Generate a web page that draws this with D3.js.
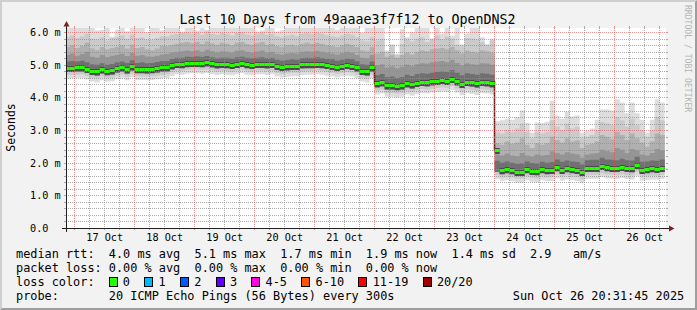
<!DOCTYPE html>
<html><head><meta charset="utf-8">
<script src="https://cdn.jsdelivr.net/npm/d3@7"></script>
<style>
body{margin:0;background:#f2f2f2}
svg text{font-family:"DejaVu Sans Mono",monospace;white-space:pre}
</style>
</head><body>
<svg id="c" width="697" height="310"></svg>
<script>
// ---------- data ----------
const titleText = "Last 10 Days from 49aaae3f7f12 to OpenDNS2";
const startTime = new Date(2025, 9, 16, 20, 31, 45);
const endTime = new Date(2025, 9, 26, 20, 31, 45);
const binStart = new Date(2025, 9, 16, 20, 0, 0);
const binHours = 2;

// median rtt per 2-hour bin (ms)
const median = [
4.91,4.91,4.92,4.92,4.88,4.82,4.80,4.86,4.81,4.83, 4.89,4.92,4.86,4.95,4.87,4.87,4.86,4.87,4.89,4.92,
4.93,4.99,5.04,5.03,5.06,5.07,5.07,5.06,5.08,5.05, 5.02,5.04,5.03,5.01,5.04,5.07,5.03,5.01,5.04,5.04,
5.02,5.04,4.97,4.94,4.96,4.98,4.98,5.02,5.03,5.03, 5.04,5.03,5.00,4.98,4.94,4.98,5.00,4.98,4.92,4.82,
4.80,4.92,
4.44,4.47,4.37,4.37,4.35,4.37,4.44,4.40,4.45,4.49, 4.47,4.50,4.52,4.54,4.52,4.58,4.50,4.42,4.48,4.46,
4.43,4.48,4.47,4.44,
2.40,1.77,1.80,1.77,1.73,1.73,1.80,1.76,1.74,1.80, 1.77,1.78,1.86,1.79,1.83,1.80,1.78,1.71,1.84,1.85,
1.85,1.90,1.86,1.85,1.84,1.87,1.84,1.83,1.94,1.79, 1.80,1.83,1.82,1.85];

// smoke: ranked ping levels per bin (ms)
const pingMax = [
6.30,6.30,6.25,6.30,6.30,6.20,6.05,6.08,6.30,5.86, 6.08,6.30,6.03,6.30,6.25,6.30,6.00,6.30,6.30,6.05,
6.20,6.30,6.30,6.02,6.30,6.30,6.05,6.30,6.08,6.30, 6.30,6.30,6.25,6.30,6.30,6.30,6.30,6.30,6.02,6.05,
6.30,6.30,6.02,6.06,6.30,6.30,6.30,6.25,6.30,6.30, 6.30,6.30,6.30,6.30,6.08,6.30,6.30,6.25,6.30,5.98,
6.20,6.30,
6.30,6.20,5.44,5.63,5.34,6.10,5.85,6.00,6.30,6.20, 6.30,5.81,6.30,5.95,6.30,5.90,6.30,5.63,5.95,6.30,
6.30,5.85,5.63,5.80,
3.27,3.30,3.35,3.32,3.40,3.60,3.22,2.92,3.23,3.22, 3.26,3.90,3.45,3.35,3.57,3.42,3.45,2.92,2.98,3.05,
3.32,3.63,3.63,3.60,3.95,3.85,3.52,3.85,3.52,3.32, 2.92,3.32,3.95,3.85];
const pingUp1 = [
5.85,5.90,5.82,5.88,5.95,5.80,5.78,5.85,5.75,5.82, 5.85,5.90,5.80,5.92,5.82,5.85,5.78,5.76,5.82,5.88,
5.88,5.92,5.95,5.98,6.00,5.95,5.98,5.92,6.02,5.95, 5.92,5.98,5.95,5.90,5.98,6.00,5.94,5.90,5.95,6.00,
5.92,5.95,5.88,5.85,5.90,5.92,5.88,5.95,5.98,5.94, 5.98,5.95,5.90,5.88,5.85,5.90,5.95,5.92,5.85,5.75,
5.72,5.85,
5.75,5.80,5.40,5.60,5.30,5.65,5.78,5.72,5.80,5.85, 5.70,5.78,5.90,5.78,5.86,5.80,5.62,5.58,5.82,5.80,
5.78,5.70,5.62,5.75,
2.95,2.90,3.00,2.95,3.05,3.20,2.95,2.75,2.95,2.90, 2.95,3.30,3.10,3.00,3.20,3.05,3.10,2.75,2.80,2.85,
3.00,3.25,3.20,3.15,3.40,3.30,3.10,3.35,3.15,3.00, 2.80,3.00,3.40,3.30];
const pingUp2 = [
5.55,5.60,5.52,5.58,5.68,5.50,5.45,5.55,5.48,5.52, 5.55,5.60,5.50,5.62,5.52,5.55,5.48,5.45,5.50,5.58,
5.58,5.62,5.65,5.68,5.70,5.66,5.70,5.64,5.72,5.66, 5.62,5.68,5.65,5.60,5.68,5.70,5.64,5.62,5.66,5.70,
5.62,5.65,5.58,5.55,5.60,5.62,5.58,5.65,5.68,5.64, 5.68,5.65,5.60,5.58,5.55,5.60,5.65,5.62,5.55,5.45,
5.42,5.55,
5.35,5.40,5.25,5.30,5.22,5.30,5.38,5.32,5.40,5.45, 5.42,5.48,5.50,5.52,5.48,5.55,5.45,5.35,5.44,5.40,
5.38,5.45,5.42,5.38,
2.60,2.55,2.65,2.58,2.62,2.75,2.55,2.45,2.60,2.55, 2.60,2.80,2.70,2.62,2.75,2.65,2.68,2.45,2.55,2.58,
2.65,2.85,2.80,2.72,2.95,2.85,2.70,2.90,2.75,2.62, 2.50,2.65,2.90,2.85];
const pingUp3 = [
5.30,5.35,5.28,5.33,5.40,5.25,5.22,5.30,5.24,5.28, 5.30,5.34,5.27,5.36,5.28,5.30,5.26,5.25,5.28,5.32,
5.33,5.38,5.40,5.42,5.44,5.42,5.45,5.40,5.46,5.42, 5.38,5.42,5.40,5.37,5.43,5.45,5.40,5.38,5.41,5.44,
5.38,5.40,5.34,5.32,5.35,5.36,5.35,5.40,5.42,5.40, 5.43,5.40,5.37,5.35,5.32,5.36,5.40,5.37,5.30,5.22,
5.20,5.30,
4.98,5.02,4.92,4.95,4.90,4.94,5.00,4.96,5.02,5.05, 5.04,5.08,5.10,5.12,5.08,5.15,5.06,4.98,5.05,5.02,
5.00,5.05,5.04,5.00,
2.25,2.22,2.28,2.22,2.20,2.30,2.22,2.18,2.25,2.22, 2.24,2.35,2.30,2.25,2.32,2.28,2.26,2.15,2.25,2.28,
2.30,2.40,2.36,2.32,2.45,2.40,2.30,2.42,2.38,2.25, 2.22,2.30,2.42,2.38];
const pingUp4 = [
5.10,5.12,5.10,5.13,5.08,5.02,5.00,5.05,5.00,5.03, 5.08,5.10,5.06,5.14,5.06,5.08,5.05,5.06,5.09,5.12,
5.12,5.18,5.22,5.22,5.25,5.24,5.26,5.24,5.27,5.23, 5.20,5.22,5.22,5.19,5.23,5.25,5.22,5.20,5.22,5.23,
5.20,5.22,5.16,5.13,5.15,5.17,5.16,5.21,5.22,5.21, 5.23,5.21,5.18,5.17,5.13,5.16,5.19,5.17,5.11,5.02,
5.00,5.10,
4.68,4.72,4.62,4.64,4.60,4.63,4.70,4.66,4.72,4.74, 4.73,4.76,4.78,4.80,4.78,4.84,4.76,4.68,4.74,4.72,
4.70,4.74,4.73,4.70,
2.06,2.00,2.04,2.00,1.96,1.97,2.04,1.99,1.97,2.03, 2.00,2.02,2.10,2.03,2.07,2.04,2.02,1.95,2.08,2.09,
2.09,2.15,2.10,2.09,2.08,2.12,2.08,2.07,2.18,2.03, 2.04,2.07,2.06,2.10];
const pingLo2 = [
4.78,4.78,4.79,4.79,4.75,4.69,4.67,4.73,4.68,4.70, 4.76,4.79,4.73,4.82,4.74,4.74,4.73,4.74,4.76,4.79,
4.80,4.86,4.91,4.90,4.93,4.94,4.94,4.93,4.95,4.92, 4.89,4.91,4.90,4.88,4.91,4.94,4.90,4.88,4.91,4.91,
4.89,4.91,4.84,4.81,4.83,4.85,4.85,4.89,4.90,4.90, 4.91,4.90,4.87,4.85,4.81,4.85,4.87,4.85,4.79,4.69,
4.67,4.79,
4.31,4.34,4.24,4.24,4.22,4.24,4.31,4.27,4.32,4.36, 4.34,4.37,4.39,4.41,4.39,4.45,4.37,4.29,4.35,4.33,
4.30,4.35,4.34,4.31,
1.72,1.65,1.68,1.65,1.61,1.61,1.68,1.64,1.62,1.68, 1.65,1.66,1.74,1.67,1.71,1.68,1.66,1.59,1.72,1.73,
1.73,1.78,1.74,1.73,1.72,1.75,1.72,1.71,1.82,1.67, 1.68,1.71,1.70,1.73];
const pingLo1 = [
4.69,4.70,4.70,4.71,4.66,4.60,4.58,4.64,4.59,4.61, 4.67,4.70,4.64,4.73,4.65,4.65,4.64,4.65,4.67,4.70,
4.71,4.77,4.82,4.81,4.84,4.85,4.85,4.84,4.86,4.83, 4.80,4.82,4.81,4.79,4.82,4.85,4.81,4.79,4.82,4.82,
4.80,4.82,4.75,4.72,4.74,4.76,4.76,4.80,4.81,4.81, 4.82,4.81,4.78,4.76,4.72,4.76,4.78,4.76,4.70,4.60,
4.58,4.70,
4.21,4.24,4.14,4.14,4.12,4.14,4.21,4.17,4.22,4.26, 4.24,4.27,4.29,4.31,4.29,4.35,4.27,4.19,4.25,4.23,
4.20,4.25,4.24,4.21,
1.62,1.55,1.58,1.55,1.51,1.51,1.58,1.54,1.52,1.58, 1.55,1.56,1.64,1.57,1.61,1.58,1.56,1.49,1.62,1.63,
1.63,1.68,1.64,1.63,1.62,1.65,1.62,1.61,1.72,1.57, 1.58,1.61,1.60,1.63];
const pingMin = [
4.58,4.59,4.60,4.60,4.55,4.49,4.46,4.53,4.48,4.50, 4.56,4.59,4.53,4.62,4.54,4.54,4.53,4.54,4.56,4.59,
4.60,4.66,4.71,4.70,4.73,4.74,4.74,4.73,4.75,4.72, 4.69,4.71,4.70,4.68,4.71,4.74,4.70,4.68,4.71,4.71,
4.69,4.71,4.64,4.61,4.63,4.65,4.65,4.69,4.70,4.70, 4.71,4.70,4.67,4.65,4.61,4.65,4.67,4.65,4.59,4.49,
4.46,4.59,
4.09,4.12,4.02,4.02,4.00,4.02,4.09,4.05,4.10,4.14, 4.12,4.15,4.17,4.19,4.17,4.23,4.15,4.07,4.13,4.11,
4.08,4.13,4.12,4.09,
1.50,1.43,1.46,1.43,1.39,1.39,1.46,1.42,1.40,1.46, 1.43,1.44,1.52,1.45,1.49,1.46,1.44,1.37,1.50,1.51,
1.51,1.56,1.52,1.51,1.50,1.53,1.50,1.49,1.60,1.45, 1.46,1.49,1.48,1.51];

// the two level shifts: dark step lines in the smoke (ms)
const stepTimes = [new Date(2025, 9, 22, 0, 0, 0), new Date(2025, 9, 24, 0, 0, 0)];
const stepHigh = [4.95, 4.50];
const stepLow = [4.40, 2.35];

const yTickValues = [0, 1, 2, 3, 4, 5, 6];
const yTickLabels = ["0.0", "1.0 m", "2.0 m", "3.0 m", "4.0 m", "5.0 m", "6.0 m"];
const dayLabels = ["17 Oct","18 Oct","19 Oct","20 Oct","21 Oct","22 Oct","23 Oct","24 Oct","25 Oct","26 Oct"];
const yAxisTitle = "Seconds";
const watermark = "RRDTOOL / TOBI OETIKER";

const rttStats = ["4.0", "5.1", "1.7", "1.9", "1.4"];
const rttStatNames = ["avg", "max", "min", "now", "sd"];
const amsValue = "2.9";
const lossStats = ["0.00", "0.00", "0.00", "0.00"];
const lossStatNames = ["avg", "max", "min", "now"];
const lossLabels = ["0", "1", "2", "3", "4-5", "6-10", "11-19", "20/20"];
const lossColors = ["#26ff00", "#00b8ff", "#0059ff", "#5e00ff", "#ff00e1", "#ff5500", "#ff0000", "#a10000"];
const probeText = "20 ICMP Echo Pings (56 Bytes) every 300s";
const dateText = "Sun Oct 26 20:31:45 2025";

// ---------- layout ----------
const W = 697, H = 310;
const X0 = 66, X1 = 666, Y0 = 228, Y1 = 28;
const yMax = 6.13;
const svg = d3.select("#c");
const x = d3.scaleTime().domain([startTime, endTime]).range([X0, X1]);
const y = d3.scaleLinear().domain([0, yMax]).range([Y0, Y1]);

// background & 3D frame
svg.append("rect").attr("width", W).attr("height", H).attr("fill", "#f2f2f2");
svg.append("path").attr("d", `M0,0H${W}L${W-2},2H2V${H-2}L0,${H}Z`).attr("fill", "#cfcfcf");
svg.append("path").attr("d", `M${W},0V${H}H0L2,${H-2}H${W-2}V2Z`).attr("fill", "#9e9e9e");

// canvas
svg.append("rect").attr("x", X0).attr("y", Y1).attr("width", X1 - X0).attr("height", Y0 - Y1).attr("fill", "#fff");
svg.append("clipPath").attr("id", "plot").append("rect")
  .attr("x", X0).attr("y", Y1).attr("width", X1 - X0).attr("height", Y0 - Y1);

const gData = svg.append("g").attr("clip-path", "url(#plot)");
const bins = median.map((m, i) => ({ i, t0: d3.timeHour.offset(binStart, i * binHours), t1: d3.timeHour.offset(binStart, (i + 1) * binHours) }));

function band(topArr, botArr, color) {
  const pts = bins.map(b => ({ t: b.t0, top: topArr[b.i], bot: botArr[b.i] }));
  const last = bins[bins.length - 1];
  pts.push({ t: last.t1, top: topArr[last.i], bot: botArr[last.i] });
  gData.append("path").datum(pts)
    .attr("d", d3.area().curve(d3.curveStepAfter).x(d => x(d.t)).y0(d => y(d.bot)).y1(d => y(d.top)))
    .attr("fill", color);
}
band(pingMax, pingMin, "#dddddd");
band(pingUp1, pingLo1, "#cacaca");
band(pingUp2, pingLo2, "#b0b0b0");
band(pingUp3, pingLo2, "#959595");
band(pingUp4, pingLo2, "#707070");

// dark core just around the median
gData.selectAll("rect.core").data(bins).join("rect").attr("class", "core")
  .attr("x", d => x(d.t0)).attr("width", d => x(d.t1) - x(d.t0))
  .attr("y", d => Math.round(y(median[d.i])) - 2).attr("height", 6)
  .attr("fill", "#4a4a4a");

// level-shift step lines
gData.selectAll("line.step").data(stepTimes).join("line").attr("class", "step")
  .attr("x1", t => Math.floor(x(t)) + 0.5).attr("x2", t => Math.floor(x(t)) + 0.5)
  .attr("y1", (t, i) => y(stepHigh[i])).attr("y2", (t, i) => y(stepLow[i]))
  .attr("stroke", "#2a2a2a").attr("stroke-width", 1.5);

// grid
const gGrid = svg.append("g").attr("shape-rendering", "crispEdges");
const minorColor = "rgba(143,143,143,0.75)", majorColor = "rgba(222,80,80,0.6)";
const px = v => Math.floor(v) + 0.5;
const pyy = v => Math.round(v) + 0.5;
const minorTimes = d3.timeHour.every(6).range(startTime, endTime).filter(t => t.getHours() !== 0);
const majorTimes = d3.timeDay.range(startTime, endTime);
const minorVals = d3.range(1, 31).filter(i => i % 5 !== 0).map(i => i * 0.2).filter(v => v < yMax);
const majorVals = yTickValues.filter(v => v > 0);

function vline(t, color, dash) {
  const xx = px(x(t));
  gGrid.append("line").attr("x1", xx).attr("x2", xx).attr("y1", Y1).attr("y2", Y0)
    .attr("stroke", color).attr("stroke-dasharray", dash);
  gGrid.append("line").attr("x1", xx).attr("x2", xx).attr("y1", Y0).attr("y2", Y0 + 2).attr("stroke", color);
  gGrid.append("line").attr("x1", xx).attr("x2", xx).attr("y1", Y1 - 2).attr("y2", Y1).attr("stroke", color);
}
function hline(v, color, dash) {
  const yy = pyy(y(v));
  gGrid.append("line").attr("x1", X0).attr("x2", X1).attr("y1", yy).attr("y2", yy)
    .attr("stroke", color).attr("stroke-dasharray", dash);
  gGrid.append("line").attr("x1", X0 - 2).attr("x2", X0).attr("y1", yy).attr("y2", yy).attr("stroke", color);
  gGrid.append("line").attr("x1", X1).attr("x2", X1 + 2).attr("y1", yy).attr("y2", yy).attr("stroke", color);
}
minorTimes.forEach(t => vline(t, minorColor, "1,1"));
minorVals.forEach(v => hline(v, minorColor, "1,1"));
majorTimes.forEach(t => vline(t, majorColor, "1,1"));
majorVals.forEach(v => hline(v, majorColor, "1,1"));

// median bars
const gMed = svg.append("g").attr("clip-path", "url(#plot)");
gMed.selectAll("rect").data(bins).join("rect")
  .attr("x", d => x(d.t0)).attr("width", d => x(d.t1) - x(d.t0))
  .attr("y", d => Math.round(y(median[d.i])) - 1).attr("height", 3)
  .attr("fill", lossColors[0]);

// axes
const gAx = svg.append("g").attr("shape-rendering", "crispEdges");
gAx.append("line").attr("x1", X0 - 4).attr("x2", X1 + 4).attr("y1", Y0 + 0.5).attr("y2", Y0 + 0.5).attr("stroke", "#1f1f1f");
gAx.append("line").attr("x1", X0 + 0.5).attr("x2", X0 + 0.5).attr("y1", Y0 + 4).attr("y2", Y1 - 3).attr("stroke", "#1f1f1f");
svg.append("path").attr("d", `M${X1 + 3},${Y0 - 2.5}L${X1 + 8.5},${Y0 + 0.5}L${X1 + 3},${Y0 + 3.5}Z`).attr("fill", "#7f1f1f");
svg.append("path").attr("d", `M${X0 - 2.5},${Y1 - 1.5}L${X0 + 0.5},${Y1 - 7}L${X0 + 3.5},${Y1 - 1.5}Z`).attr("fill", "#7f1f1f");

// axis labels
const axisFont = "10.2px";
svg.append("g").selectAll("text").data(yTickValues).join("text")
  .attr("x", 30).attr("y", v => Math.round(y(v)) + 3.6)
  .attr("font-size", axisFont).attr("fill", "#000")
  .text((v, i) => yTickLabels[i]);
svg.append("g").selectAll("text").data(majorTimes).join("text")
  .attr("x", t => x(d3.timeHour.offset(t, 12))).attr("y", 241)
  .attr("text-anchor", "middle").attr("font-size", axisFont).attr("fill", "#000")
  .text((t, i) => dayLabels[i]);

// title, unit, watermark
svg.append("text").attr("x", 347.5).attr("y", 24).attr("text-anchor", "middle")
  .attr("font-size", "13.3px").attr("fill", "#000").text(titleText);
svg.append("text").attr("transform", "translate(15,127.5) rotate(-90)").attr("text-anchor", "middle")
  .attr("font-size", "11.5px").attr("fill", "#000").text(yAxisTitle);
svg.append("text").attr("transform", "translate(685,5) rotate(90)")
  .attr("font-size", "8.1px").attr("fill", "#b4b4b4").text(watermark);

// legend
const lf = "11.86px", cw = 7.14, lx = 16;
const gL = svg.append("g").attr("font-size", lf).attr("fill", "#000");
const row1 = "median rtt:  " + rttStats.map((v, i) => `${v} ms ${rttStatNames[i]}`).join("  ") + "  " + amsValue + "   am/s";
const row2 = "packet loss: " + lossStats.map((v, i) => `${v} % ${lossStatNames[i]}`).join("  ");
gL.append("text").attr("x", lx).attr("y", 258.4).text(row1);
gL.append("text").attr("x", lx).attr("y", 272.3).text(row2);
gL.append("text").attr("x", lx).attr("y", 286.2).text("loss color:");
gL.append("text").attr("x", lx).attr("y", 300).text("probe:       " + probeText);
gL.append("text").attr("x", 512.8).attr("y", 300).text(dateText);

// loss color boxes
let bx = lx + 13 * cw - 0.3;
lossLabels.forEach((lab, i) => {
  svg.append("rect").attr("x", Math.round(bx) + 0.5).attr("y", 277.5).attr("width", 8).attr("height", 9)
    .attr("fill", lossColors[i]).attr("stroke", "#000").attr("stroke-width", 1).attr("shape-rendering", "crispEdges");
  gL.append("text").attr("x", bx + 2 * cw).attr("y", 286.2).text(lab);
  bx += (2 + lab.length + 2) * cw;
});
</script>
</body></html>
